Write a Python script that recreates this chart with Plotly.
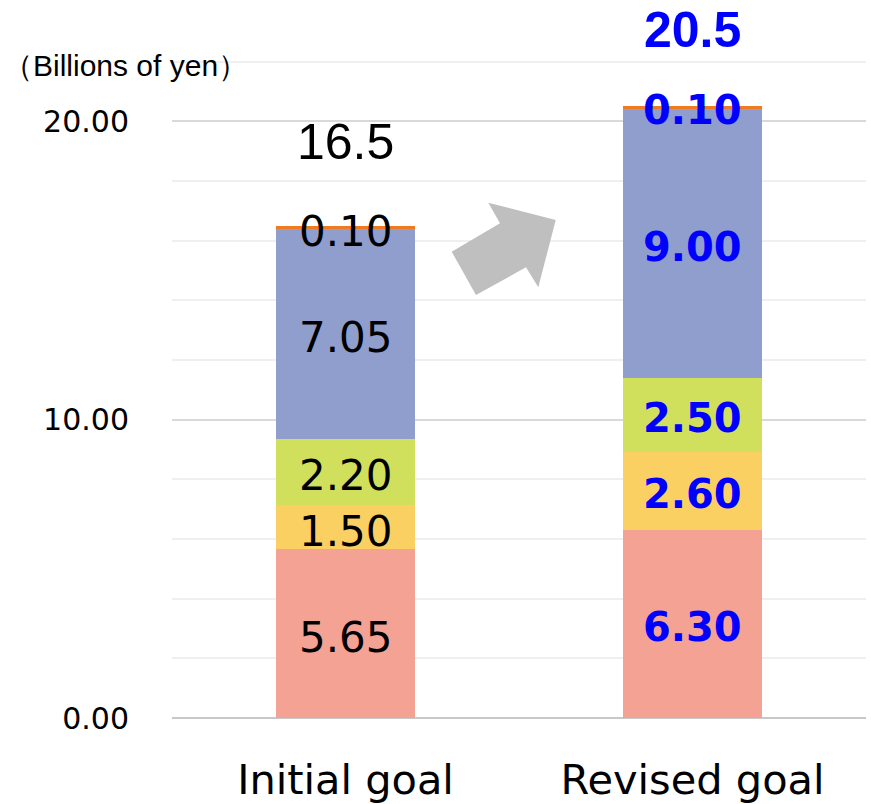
import plotly.graph_objects as go

categories = ["Initial goal", "Revised goal"]
seg1 = [5.65, 6.30]
seg2 = [1.50, 2.60]
seg3 = [2.20, 2.50]
seg4 = [7.05, 9.00]
seg5 = [0.10, 0.10]
totals = ["16.5", "20.5"]
y_ticks = [0, 10, 20]
y_tick_labels = ["0.00", "10.00", "20.00"]

colors = ["#F4A294", "#FBD063", "#D1E05C", "#8F9ECD", "#EE7A22"]
series = [seg1, seg2, seg3, seg4, seg5]

fig = go.Figure()
for vals, col in zip(series, colors):
    fig.add_trace(go.Bar(x=categories, y=vals, marker=dict(color=col, line=dict(width=0)),
                         width=0.4, hoverinfo="skip"))

label_styles = [
    dict(family="DejaVu Sans", size=42, color="black"),
    dict(family="DejaVu Sans", size=40, color="#0000FF", weight="bold"),
]
label_shift = [-4, -3]
total_styles = [
    dict(family="Liberation Sans, Arial", size=50, color="black"),
    dict(family="Liberation Sans, Arial", size=50, color="#0000FF", weight="bold"),
]
total_shift = [84, 76]

for ci, cat in enumerate(categories):
    cum = 0.0
    for si, vals in enumerate(series):
        v = vals[ci]
        mid = cum + v / 2
        cum += v
        txt = f"{v:.2f}"
        if ci == 1:
            txt = f"<b>{txt}</b>"
        yshift = -4 if si == len(series) - 1 else label_shift[ci]
        if si == len(series) - 1 and ci == 1:
            yshift = -2
        fig.add_annotation(x=cat, y=mid, text=txt, showarrow=False, yshift=yshift,
                           font=label_styles[ci])
    ttxt = totals[ci] if ci == 0 else f"<b>{totals[ci]}</b>"
    fig.add_annotation(x=cat, y=cum, text=ttxt, showarrow=False, yshift=total_shift[ci],
                       font=total_styles[ci])

# decorative block arrow (pixel positions converted to paper coordinates)
L, R, T, B = 172, 866, 2, 718
def px(x, y):
    return (x - L) / (R - L), (B - y) / (B - T)
pts = [(451.7, 251.7), (500, 223.3), (488.3, 202.7), (555.7, 220),
       (538.3, 287.3), (526, 267.3), (476, 295)]
path = "M " + " L ".join(f"{px(x, y)[0]:.4f},{px(x, y)[1]:.4f}" for x, y in pts) + " Z"
fig.add_shape(type="path", path=path, xref="paper", yref="paper",
              fillcolor="#BFBFBF", line=dict(width=0), layer="above")

fig.add_annotation(x=px(125, 65)[0], y=px(125, 65)[1], xref="paper", yref="paper",
                   text="（Billions of yen）", showarrow=False, xanchor="center", yanchor="middle",
                   font=dict(family="Liberation Sans, Arial", size=30, color="black"))

fig.update_layout(
    barmode="stack",
    showlegend=False,
    width=871, height=804,
    margin=dict(l=L, r=871 - R, t=T, b=804 - B, autoexpand=False),
    paper_bgcolor="white", plot_bgcolor="white",
    bargap=0.6,
)
fig.update_xaxes(showline=False, ticks="", automargin=False,
                 tickfont=dict(family="DejaVu Sans", size=41.5, color="black"),
                 ticklabelstandoff=33)
fig.update_yaxes(range=[0, 24], tickvals=y_ticks, ticktext=y_tick_labels, automargin=False,
                 tickfont=dict(family="DejaVu Sans", size=30, color="black"),
                 showgrid=True, gridcolor="#D9D9D9", gridwidth=1.5,
                 minor=dict(dtick=2, showgrid=True, gridcolor="#EFEFEF", gridwidth=1.5),
                 zeroline=True, zerolinecolor="#C8C8C8", zerolinewidth=2,
                 ticklabelstandoff=42, showline=False)

fig.write_html("out.html", config={"displayModeBar": False},
               post_script="document.body.style.margin='0';document.body.style.overflow='hidden';")
